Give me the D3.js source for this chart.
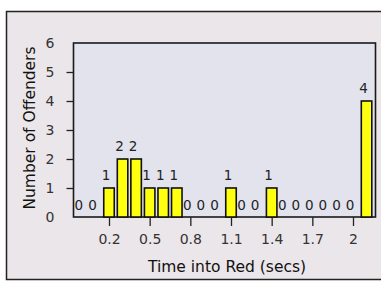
<!DOCTYPE html>
<html><head><meta charset="utf-8">
<script src="https://cdn.jsdelivr.net/npm/d3@7"></script>
<style>body{margin:0;background:#fff}svg{display:block;font-family:"DejaVu Sans",Verdana,sans-serif}</style>
</head><body><svg id="c" width="381" height="283"></svg>
<script>
const bins = [0,0.1,0.2,0.3,0.4,0.5,0.6,0.7,0.8,0.9,1.0,1.1,1.2,1.3,1.4,1.5,1.6,1.7,1.8,1.9,2.0,2.1];
const counts = [0,0,1,2,2,1,1,1,0,0,0,1,0,0,1,0,0,0,0,0,0,4];
const xTicks = [0.2,0.5,0.8,1.1,1.4,1.7,2];
const yTicks = [0,1,2,3,4,5,6];

const svg = d3.select("#c");
svg.append("rect").attr("x",6.5).attr("y",11.5).attr("width",380).attr("height",268)
  .attr("fill","#ebe6e9").attr("stroke","#222").attr("stroke-width",1.5);

const x = d3.scaleLinear().domain([0.2,2.0]).range([109,353]);
const y = d3.scaleLinear().domain([0,6]).range([217,43]);
const L=73.5, R=375.5;
svg.append("rect").attr("x",L).attr("y",y(6)).attr("width",R-L).attr("height",y(0)-y(6))
  .attr("fill","#e3e3ee").attr("stroke","#1a1a1a").attr("stroke-width",1.6);

const bw = 10.5;
const g = svg.append("g");
counts.forEach((c,i)=>{
  if(c>0){
    g.append("rect").attr("x",x(bins[i])-bw/2).attr("y",y(c)).attr("width",bw).attr("height",y(0)-y(c))
      .attr("fill","#ffff10").attr("stroke","#111").attr("stroke-width",1.6);
  }
});
counts.forEach((c,i)=>{
  g.append("text").attr("x",x(bins[i])-3).attr("y",y(c)-(c>0?8:7)).attr("text-anchor","middle")
    .attr("font-size",13.5).attr("fill","#222").text(c);
});

// x axis
const xa = svg.append("g").attr("transform",`translate(0,${y(0)})`)
  .call(d3.axisBottom(x).tickValues(xTicks).tickFormat(d=>d3.format("~g")(d)).tickSize(9).tickPadding(8));
xa.select(".domain").remove();
xa.selectAll("line").attr("stroke","#222").attr("stroke-width",1.3);
xa.selectAll("text").attr("font-size",14).attr("fill","#333").style("font-family","DejaVu Sans, sans-serif");

// y axis
const ya = svg.append("g").attr("transform",`translate(${L},0)`)
  .call(d3.axisLeft(y).tickValues(yTicks).tickFormat(d3.format("d")).tickSize(7).tickPadding(5));
ya.select(".domain").remove();
ya.selectAll("line").attr("stroke","#222").attr("stroke-width",1.3)
  .attr("opacity",d=>(d===0||d===6)?0:1);
ya.selectAll("text").attr("font-size",14).attr("fill","#333").style("font-family","DejaVu Sans, sans-serif")
  .attr("x",-19);

svg.append("text").attr("x",227).attr("y",272).attr("text-anchor","middle")
  .attr("font-size",15.5).attr("fill","#111").text("Time into Red (secs)");
svg.append("text").attr("transform","translate(35,128) rotate(-90)").attr("text-anchor","middle")
  .attr("font-size",15.5).attr("fill","#111").text("Number of Offenders");
</script></body></html>
